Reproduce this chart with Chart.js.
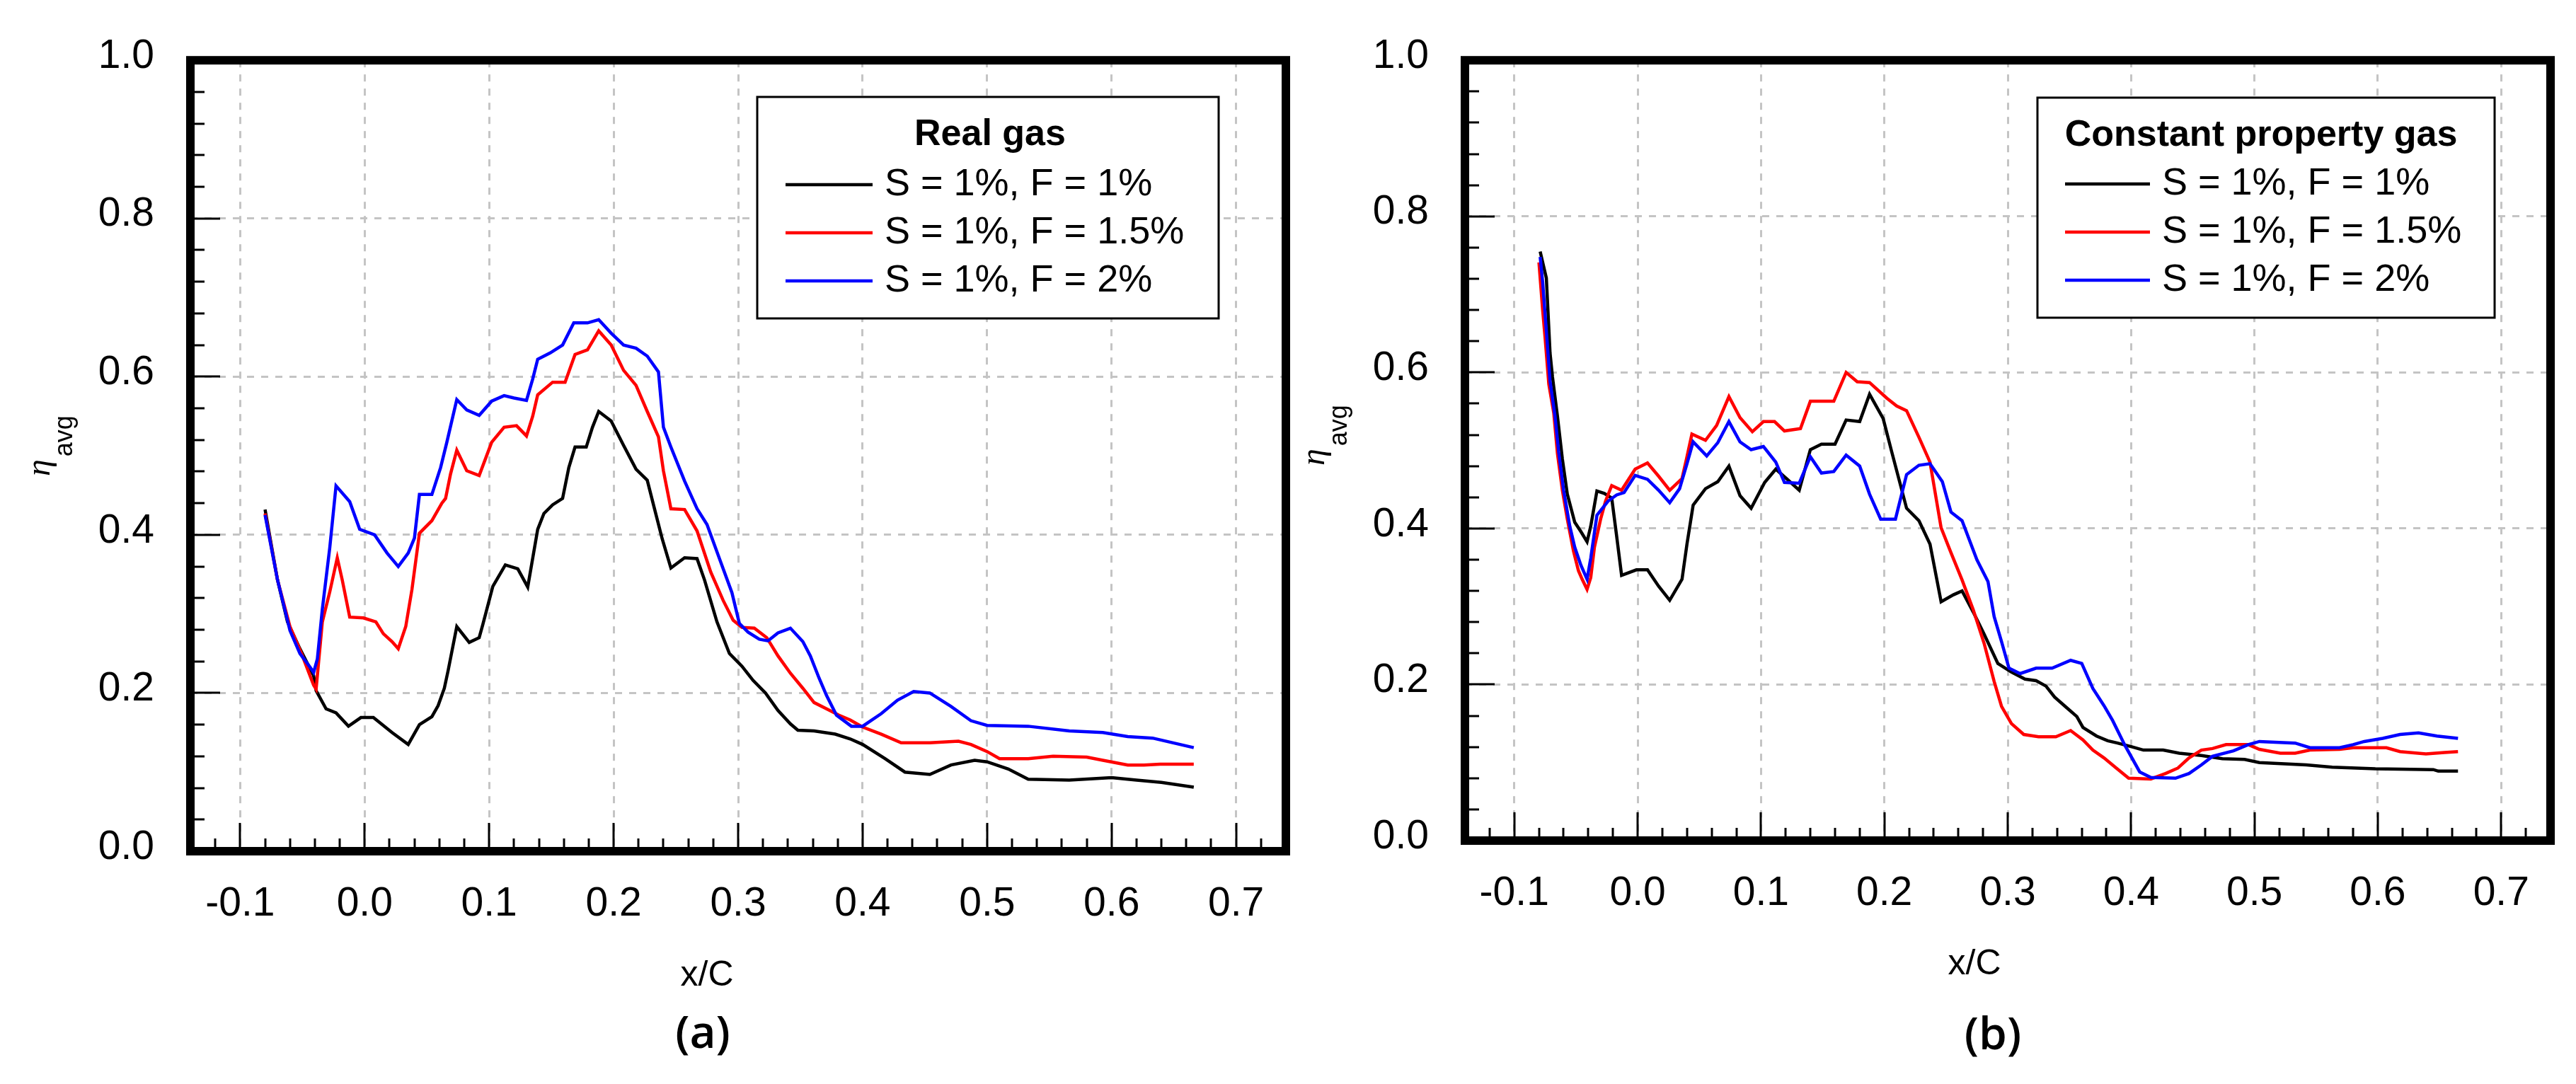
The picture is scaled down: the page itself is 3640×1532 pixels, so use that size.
<!DOCTYPE html>
<html><head><meta charset="utf-8">
<script src="https://cdn.jsdelivr.net/npm/chart.js@4.4.0/dist/chart.umd.min.js"></script>
<style>
html,body{margin:0;padding:0;background:#fff;width:3640px;height:1532px;overflow:hidden}
.c{position:absolute;top:0;height:1532px}
#wa{left:0;width:1830px}
#wb{left:1830px;width:1810px}
</style></head><body>
<div class="c" id="wa"><canvas id="ca" width="1830" height="1532"></canvas></div>
<div class="c" id="wb"><canvas id="cb" width="1810" height="1532"></canvas></div>
<script>
// ---- tick values / labels ----
const xTicks = [-0.1, 0.0, 0.1, 0.2, 0.3, 0.4, 0.5, 0.6, 0.7];
const xTickLabels = ['-0.1', '0.0', '0.1', '0.2', '0.3', '0.4', '0.5', '0.6', '0.7'];
const yTicks = [0.0, 0.2, 0.4, 0.6, 0.8, 1.0];
const yTickLabels = ['0.0', '0.2', '0.4', '0.6', '0.8', '1.0'];
const seriesLabels = ['S = 1%, F = 1%', 'S = 1%, F = 1.5%', 'S = 1%, F = 2%'];
const legendTitles = ['Real gas', 'Constant property gas'];
const panelTags = ['(a)', '(b)'];
const xAxisTitle = 'x/C';

// ---- panel (a): Real gas ----
const aBlackX = [-0.080,-0.070,-0.062,-0.052,-0.041,-0.039,-0.031,-0.023,-0.013,-0.003,0.007,0.022,0.035,0.044,0.054,0.059,0.064,0.067,0.074,0.084,0.092,0.095,0.103,0.113,0.123,0.131,0.139,0.144,0.151,0.159,0.164,0.169,0.178,0.183,0.188,0.198,0.208,0.218,0.227,0.232,0.239,0.246,0.257,0.267,0.273,0.283,0.293,0.303,0.312,0.322,0.332,0.342,0.348,0.361,0.378,0.390,0.400,0.418,0.434,0.454,0.471,0.490,0.500,0.517,0.533,0.566,0.600,0.620,0.640,0.666];
const aBlackY = [0.432,0.343,0.290,0.256,0.222,0.203,0.180,0.175,0.158,0.169,0.169,0.150,0.135,0.160,0.170,0.184,0.206,0.228,0.284,0.264,0.270,0.287,0.335,0.362,0.357,0.334,0.407,0.427,0.438,0.446,0.485,0.511,0.511,0.536,0.556,0.544,0.513,0.483,0.469,0.438,0.395,0.358,0.371,0.370,0.343,0.290,0.250,0.234,0.216,0.200,0.178,0.161,0.153,0.152,0.148,0.142,0.135,0.117,0.100,0.097,0.109,0.115,0.113,0.104,0.091,0.090,0.093,0.090,0.087,0.081];

const aRedX = [-0.080,-0.070,-0.060,-0.050,-0.041,-0.039,-0.034,-0.028,-0.022,-0.018,-0.012,-0.001,0.009,0.015,0.022,0.027,0.033,0.038,0.044,0.054,0.062,0.065,0.069,0.074,0.082,0.092,0.102,0.112,0.122,0.130,0.135,0.139,0.151,0.161,0.169,0.179,0.188,0.198,0.208,0.218,0.227,0.236,0.240,0.246,0.257,0.267,0.278,0.288,0.296,0.303,0.313,0.323,0.332,0.342,0.352,0.361,0.371,0.381,0.390,0.400,0.415,0.431,0.454,0.477,0.487,0.500,0.510,0.533,0.553,0.580,0.593,0.613,0.626,0.639,0.666];
const aRedY = [0.427,0.343,0.284,0.247,0.210,0.205,0.290,0.328,0.371,0.343,0.296,0.295,0.290,0.275,0.265,0.256,0.284,0.331,0.402,0.418,0.440,0.446,0.477,0.507,0.481,0.475,0.517,0.536,0.538,0.525,0.550,0.577,0.593,0.593,0.628,0.634,0.658,0.640,0.608,0.589,0.556,0.524,0.481,0.433,0.432,0.405,0.353,0.317,0.292,0.283,0.282,0.270,0.247,0.225,0.206,0.188,0.180,0.172,0.166,0.157,0.148,0.137,0.137,0.139,0.135,0.126,0.117,0.117,0.120,0.119,0.115,0.109,0.109,0.110,0.110];

const aBlueX = [-0.080,-0.070,-0.060,-0.052,-0.044,-0.041,-0.038,-0.034,-0.028,-0.023,-0.012,-0.004,0.008,0.018,0.027,0.035,0.040,0.044,0.054,0.061,0.066,0.074,0.082,0.092,0.102,0.112,0.120,0.130,0.135,0.139,0.149,0.159,0.168,0.179,0.188,0.198,0.208,0.218,0.227,0.236,0.240,0.246,0.257,0.267,0.275,0.285,0.295,0.301,0.308,0.317,0.324,0.332,0.342,0.352,0.358,0.365,0.371,0.379,0.391,0.400,0.415,0.428,0.441,0.454,0.471,0.487,0.500,0.533,0.566,0.593,0.613,0.633,0.666];
const aBlueY = [0.425,0.343,0.279,0.250,0.233,0.226,0.243,0.306,0.384,0.462,0.442,0.407,0.400,0.377,0.360,0.377,0.396,0.451,0.451,0.485,0.517,0.571,0.558,0.551,0.569,0.576,0.573,0.570,0.597,0.622,0.630,0.640,0.668,0.668,0.672,0.655,0.640,0.636,0.626,0.606,0.536,0.511,0.468,0.433,0.413,0.370,0.327,0.288,0.277,0.268,0.266,0.276,0.282,0.265,0.247,0.219,0.197,0.172,0.158,0.158,0.174,0.191,0.202,0.200,0.183,0.165,0.159,0.158,0.152,0.150,0.145,0.143,0.131];

// ---- panel (b): Constant property gas ----
const bBlackX = [-0.079,-0.074,-0.073,-0.071,-0.069,-0.065,-0.061,-0.057,-0.051,-0.046,-0.041,-0.038,-0.033,-0.027,-0.021,-0.017,-0.013,-0.001,0.008,0.017,0.026,0.036,0.040,0.045,0.055,0.065,0.074,0.083,0.092,0.103,0.112,0.122,0.131,0.140,0.149,0.160,0.169,0.180,0.188,0.199,0.206,0.218,0.228,0.237,0.246,0.256,0.263,0.272,0.281,0.292,0.303,0.314,0.323,0.331,0.338,0.348,0.356,0.361,0.372,0.381,0.389,0.401,0.410,0.426,0.439,0.457,0.474,0.492,0.504,0.542,0.563,0.598,0.645,0.649,0.665];
const bBlackY = [0.755,0.721,0.689,0.625,0.594,0.544,0.489,0.444,0.408,0.396,0.383,0.403,0.448,0.445,0.439,0.390,0.340,0.347,0.347,0.326,0.308,0.335,0.380,0.430,0.451,0.460,0.480,0.442,0.426,0.459,0.476,0.462,0.449,0.501,0.508,0.508,0.539,0.537,0.572,0.541,0.498,0.426,0.410,0.380,0.306,0.315,0.320,0.293,0.264,0.227,0.216,0.207,0.205,0.198,0.184,0.170,0.159,0.145,0.134,0.128,0.125,0.120,0.116,0.116,0.112,0.109,0.105,0.104,0.100,0.097,0.094,0.092,0.091,0.089,0.089];

const bRedX = [-0.080,-0.077,-0.075,-0.072,-0.068,-0.065,-0.061,-0.057,-0.052,-0.048,-0.045,-0.041,-0.038,-0.035,-0.030,-0.026,-0.021,-0.013,-0.002,0.008,0.017,0.026,0.036,0.040,0.044,0.055,0.064,0.074,0.083,0.093,0.102,0.111,0.119,0.132,0.140,0.159,0.169,0.178,0.188,0.202,0.210,0.218,0.228,0.237,0.246,0.254,0.263,0.272,0.281,0.289,0.295,0.303,0.313,0.325,0.339,0.351,0.361,0.369,0.378,0.388,0.398,0.416,0.428,0.438,0.447,0.457,0.466,0.477,0.495,0.504,0.521,0.533,0.545,0.569,0.580,0.607,0.618,0.639,0.654,0.665];
const bRedY = [0.741,0.680,0.644,0.585,0.548,0.496,0.449,0.412,0.371,0.346,0.335,0.322,0.337,0.376,0.412,0.435,0.455,0.449,0.476,0.484,0.467,0.449,0.464,0.492,0.521,0.513,0.532,0.569,0.542,0.524,0.537,0.537,0.525,0.528,0.563,0.563,0.600,0.588,0.587,0.567,0.557,0.551,0.517,0.485,0.401,0.369,0.334,0.296,0.252,0.204,0.172,0.150,0.136,0.133,0.133,0.141,0.129,0.116,0.106,0.093,0.080,0.079,0.086,0.093,0.106,0.116,0.118,0.123,0.123,0.117,0.112,0.112,0.116,0.117,0.119,0.119,0.114,0.111,0.113,0.114];

const bBlueX = [-0.079,-0.077,-0.074,-0.071,-0.067,-0.064,-0.060,-0.055,-0.051,-0.046,-0.041,-0.038,-0.033,-0.024,-0.017,-0.011,-0.002,0.008,0.017,0.026,0.034,0.040,0.045,0.056,0.065,0.074,0.083,0.092,0.102,0.112,0.119,0.131,0.140,0.149,0.159,0.169,0.180,0.188,0.197,0.209,0.218,0.228,0.237,0.247,0.254,0.263,0.275,0.284,0.289,0.295,0.301,0.310,0.323,0.336,0.351,0.360,0.369,0.378,0.385,0.395,0.407,0.416,0.436,0.447,0.457,0.466,0.483,0.495,0.504,0.533,0.545,0.569,0.580,0.589,0.604,0.618,0.633,0.648,0.665];
const bBlueY = [0.748,0.716,0.653,0.589,0.544,0.498,0.449,0.403,0.376,0.353,0.335,0.362,0.417,0.435,0.443,0.446,0.468,0.463,0.449,0.433,0.451,0.483,0.511,0.493,0.510,0.537,0.511,0.501,0.505,0.485,0.459,0.458,0.492,0.471,0.473,0.494,0.480,0.444,0.412,0.412,0.469,0.481,0.483,0.460,0.421,0.410,0.360,0.332,0.287,0.255,0.221,0.214,0.221,0.221,0.231,0.227,0.195,0.173,0.154,0.122,0.088,0.081,0.080,0.086,0.097,0.108,0.115,0.123,0.127,0.125,0.119,0.119,0.123,0.127,0.131,0.136,0.138,0.134,0.131];

const seriesColors = ['#000000', '#ff0000', '#0000ff'];

function pts(xs, ys) { return xs.map((v, i) => ({ x: v, y: ys[i] })); }

const xMinor = [];
for (let k = -6; k <= 36; k++) { if (k % 5 !== 0) xMinor.push(k * 0.02); }
const yMinor = [];
for (let k = 1; k < 25; k++) { if (k % 5 !== 0) yMinor.push(k * 0.04); }

function decoPlugin(cfg) {
  return {
    id: 'deco',
    afterDatasetsDraw(chart) {
      const ctx = chart.ctx, a = chart.chartArea;
      const xs = chart.scales.x, ys = chart.scales.y;
      ctx.save();
      // inward ticks on bottom and left
      ctx.strokeStyle = '#000';
      ctx.lineWidth = 3;
      ctx.beginPath();
      xMinor.forEach(v => { const p = Math.round(xs.getPixelForValue(v)); ctx.moveTo(p, a.bottom); ctx.lineTo(p, a.bottom - 18); });
      xTicks.forEach(v => { const p = Math.round(xs.getPixelForValue(v)); ctx.moveTo(p, a.bottom); ctx.lineTo(p, a.bottom - 40); });
      yMinor.forEach(v => { const p = Math.round(ys.getPixelForValue(v)); ctx.moveTo(a.left, p); ctx.lineTo(a.left + 20, p); });
      yTicks.forEach(v => { const p = Math.round(ys.getPixelForValue(v)); ctx.moveTo(a.left, p); ctx.lineTo(a.left + 42, p); });
      ctx.stroke();
      // frame
      ctx.lineWidth = 12;
      ctx.strokeRect(a.left, a.top, a.right - a.left, a.bottom - a.top);
      // legend box
      const [bx0, by0, bx1, by1] = cfg.box;
      ctx.fillStyle = '#fff';
      ctx.fillRect(bx0, by0, bx1 - bx0, by1 - by0);
      ctx.lineWidth = 3;
      ctx.strokeRect(bx0, by0, bx1 - bx0, by1 - by0);
      ctx.fillStyle = '#000';
      ctx.textBaseline = 'middle';
      ctx.textAlign = 'center';
      ctx.font = 'bold 52px "Liberation Sans", Arial, sans-serif';
      ctx.fillText(cfg.title, cfg.titleX, cfg.titleY);
      ctx.textAlign = 'left';
      ctx.font = '54px "Liberation Sans", Arial, sans-serif';
      seriesLabels.forEach((s, i) => {
        const yy = cfg.entryY[i];
        ctx.strokeStyle = seriesColors[i];
        ctx.lineWidth = 4.5;
        ctx.beginPath(); ctx.moveTo(cfg.lineX0, yy); ctx.lineTo(cfg.lineX1, yy); ctx.stroke();
        ctx.fillStyle = '#000';
        ctx.fillText(s, cfg.textX, yy);
      });
      ctx.restore();
    },
    afterDraw(chart) {
      const ctx = chart.ctx;
      ctx.save();
      ctx.fillStyle = '#000';
      ctx.textBaseline = 'middle';
      ctx.textAlign = 'center';
      ctx.font = '50px "Liberation Sans", Arial, sans-serif';
      ctx.fillText(xAxisTitle, cfg.xtX, cfg.xtY);
      ctx.font = '600 64px "Open Sans", "Noto Sans", sans-serif';
      ctx.fillText(cfg.tag, cfg.tagX, cfg.tagY);
      // y axis title: eta_avg, rotated
      ctx.translate(cfg.etaX, cfg.etaY);
      ctx.rotate(-Math.PI / 2);
      ctx.textAlign = 'left';
      ctx.textBaseline = 'alphabetic';
      ctx.font = 'italic 48px "Liberation Serif", "DejaVu Serif", serif';
      ctx.fillText('\u03B7', 0, 0);
      const w = ctx.measureText('\u03B7').width;
      ctx.font = '36px "Liberation Sans", Arial, sans-serif';
      ctx.fillText('avg', w + 4, 32);
      ctx.restore();
    }
  };
}

function makeChart(canvasId, sets, padding, cfg) {
  const datasets = sets.map((s, i) => ({
    label: seriesLabels[i],
    data: pts(s[0], s[1]),
    borderColor: seriesColors[i],
    backgroundColor: seriesColors[i],
    borderWidth: 4.5,
    pointRadius: 0,
    tension: 0,
    fill: false,
    order: 2 - i
  }));
  return new Chart(document.getElementById(canvasId), {
    type: 'line',
    data: { datasets },
    options: {
      responsive: false,
      animation: false,
      devicePixelRatio: 1,
      layout: { padding },
      plugins: { legend: { display: false }, tooltip: { enabled: false } },
      scales: {
        x: {
          type: 'linear', min: -0.14, max: 0.74,
          afterBuildTicks: ax => { ax.ticks = xTicks.map(v => ({ value: v })); },
          afterFit: ax => { ax.height = 150; },
          grid: { display: true, color: '#c4c4c4', lineWidth: 3, drawTicks: false, tickLength: 0 },
          border: { display: false, dash: [10, 10] },
          ticks: {
            autoSkip: false, maxRotation: 0, padding: 41, color: '#000',
            font: { family: '"Liberation Sans", Arial, sans-serif', size: 57 },
            callback: (v, i) => xTickLabels[i]
          }
        },
        y: {
          type: 'linear', min: 0, max: 1,
          afterBuildTicks: ax => { ax.ticks = yTicks.map(v => ({ value: v })); },
          afterFit: ax => { ax.width = 200; },
          grid: { display: true, color: '#c4c4c4', lineWidth: 3, drawTicks: false, tickLength: 0 },
          border: { display: false, dash: [10, 10] },
          ticks: {
            autoSkip: false, padding: 51, color: '#000', labelOffset: -5,
            font: { family: '"Liberation Sans", Arial, sans-serif', size: 57 },
            callback: (v, i) => yTickLabels[i]
          }
        }
      }
    },
    plugins: [decoPlugin(cfg)]
  });
}

makeChart('ca',
  [[aBlackX, aBlackY], [aRedX, aRedY], [aBlueX, aBlueY]],
  { left: 69, right: 13, top: 66, bottom: 179 },
  { box: [1070, 137, 1722, 450], title: legendTitles[0], titleX: 1399, titleY: 191,
    entryY: [261, 329, 397], lineX0: 1110, lineX1: 1233, textX: 1250,
    xtX: 999, xtY: 1379, tag: panelTags[0], tagX: 993, tagY: 1463, etaX: 70, etaY: 673 });

makeChart('cb',
  [[bBlackX, bBlackY], [bRedX, bRedY], [bBlueX, bBlueY]],
  { left: 40, right: 36, top: 64, bottom: 194 },
  { box: [1049, 138, 1695, 449], title: legendTitles[1], titleX: 1365, titleY: 192,
    entryY: [260, 328, 396], lineX0: 1088, lineX1: 1208, textX: 1225,
    xtX: 960, xtY: 1363, tag: panelTags[1], tagX: 986, tagY: 1465, etaX: 41, etaY: 658 });
</script>
</body></html>
